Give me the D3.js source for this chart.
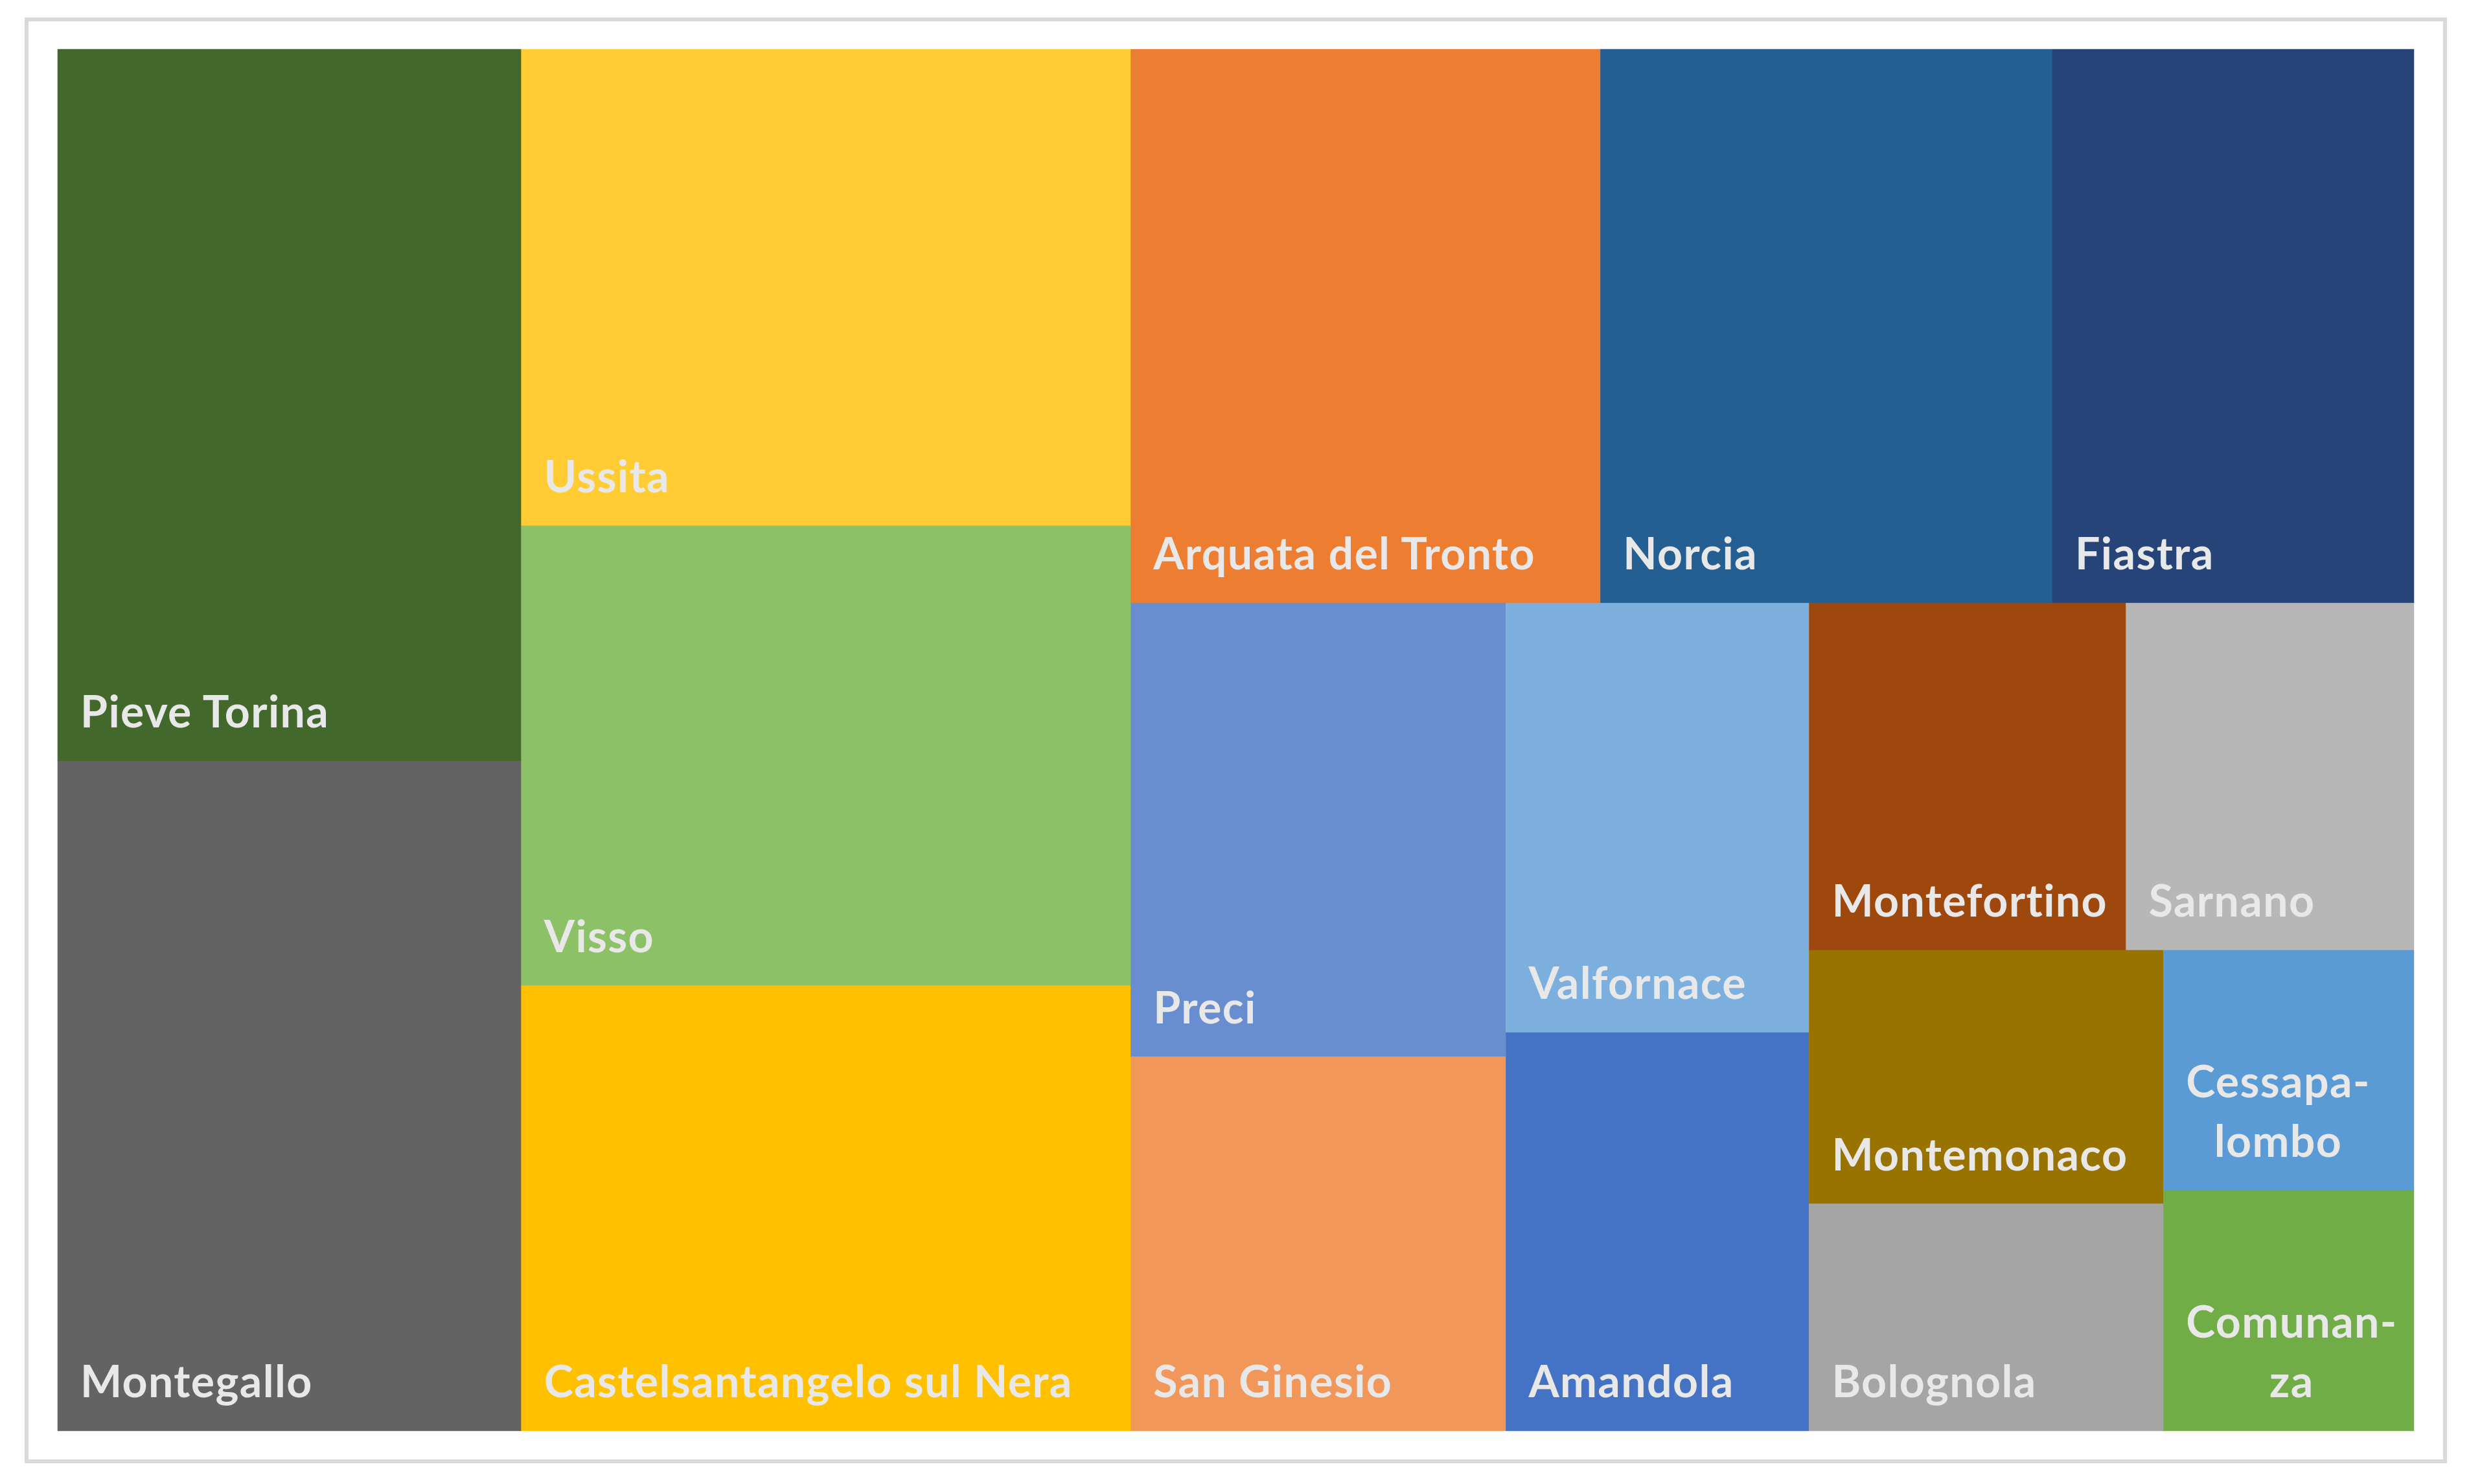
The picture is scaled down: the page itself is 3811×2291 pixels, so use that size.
<!DOCTYPE html>
<html>
<head>
<meta charset="utf-8">
<script src="https://cdn.jsdelivr.net/npm/d3@7"></script>
<style>
  html, body { margin: 0; padding: 0; background: #ffffff; }
  svg { display: block; }
</style>
</head>
<body>
<script>
// ---- data ----
const categories = ["Pieve Torina", "Montegallo", "Ussita", "Visso", "Castelsantangelo sul Nera",
  "Arquata del Tronto", "Norcia", "Fiastra", "Preci", "San Ginesio", "Valfornace", "Amandola",
  "Montefortino", "Sarnano", "Montemonaco", "Bolognola", "Cessapalombo", "Comunanza"];
const values = [10.14, 9.54, 8.92, 8.61, 8.33, 7.99, 7.69, 6.15, 5.23, 4.31, 4.00, 3.71,
  3.38, 3.07, 2.76, 2.47, 1.85, 1.85];
const labelLines = {
  "Cessapalombo": ["Cessapa-", "lombo"],
  "Comunanza": ["Comunan-", "za"]
};
const colors = ["#43682b", "#636363", "#ffcd33", "#8cc168", "#ffc000", "#ed7d31", "#255e91",
  "#264478", "#698ed0", "#f1975a", "#7cafdd", "#4472c4", "#9e480e", "#b7b7b7", "#997300",
  "#a5a5a5", "#5b9bd5", "#70ad47"];

// ---- layout ----
const W = 3811, H = 2291;
const plot = { x0: 89, y0: 76, x1: 3726, y1: 2209 };

const svg = d3.select("body").append("svg").attr("width", W).attr("height", H);
svg.append("rect").attr("width", W).attr("height", H).attr("fill", "#ffffff");
svg.append("rect")
  .attr("x", 41).attr("y", 30).attr("width", 3733).attr("height", 2226)
  .attr("fill", "none").attr("stroke", "#d9d9d9").attr("stroke-width", 6);

const data = { name: "root", children: categories.map((c, i) => ({ name: c, value: values[i], color: colors[i] })) };
const root = d3.hierarchy(data).sum(d => d.value || 0).sort((a, b) => b.value - a.value);

d3.treemap()
  .tile(d3.treemapSquarify.ratio(1))
  .size([plot.x1 - plot.x0, plot.y1 - plot.y0])
  .paddingInner(0)
  .round(false)(root);

const g = svg.append("g").attr("transform", `translate(${plot.x0},${plot.y0})`);
const cells = g.selectAll("g.cell").data(root.leaves()).join("g").attr("class", "cell");

cells.append("rect")
  .attr("x", d => d.x0).attr("y", d => d.y0)
  .attr("width", d => d.x1 - d.x0).attr("height", d => d.y1 - d.y0)
  .attr("fill", d => d.data.color)
  .attr("stroke", d => d.data.color).attr("stroke-width", 0.5);

const fontSize = 68, lineH = 92, padX = 35, padBottom = 52;
cells.each(function(d) {
  const sel = d3.select(this);
  const lines = labelLines[d.data.name] || [d.data.name];
  const txt = sel.append("text")
    .attr("font-family", "Lato, 'Open Sans', sans-serif")
    .attr("font-weight", 700)
    .attr("font-size", fontSize)
    .attr("letter-spacing", 1.4)
    .attr("fill", "#e8e8e8");
  if (lines.length === 1) {
    txt.attr("x", d.x0 + padX).attr("y", d.y1 - padBottom).text(lines[0]);
  } else {
    const widths = lines.map(l => {
      const t = txt.append("tspan").text(l);
      const w = t.node().getComputedTextLength();
      t.remove();
      return w;
    });
    const maxW = d3.max(widths);
    const cx = d.x0 + padX + maxW / 2;
    txt.attr("text-anchor", "middle");
    lines.forEach((l, i) => {
      txt.append("tspan")
        .attr("x", cx)
        .attr("y", d.y1 - padBottom - (lines.length - 1 - i) * lineH)
        .text(l);
    });
  }
});
</script>
</body>
</html>
